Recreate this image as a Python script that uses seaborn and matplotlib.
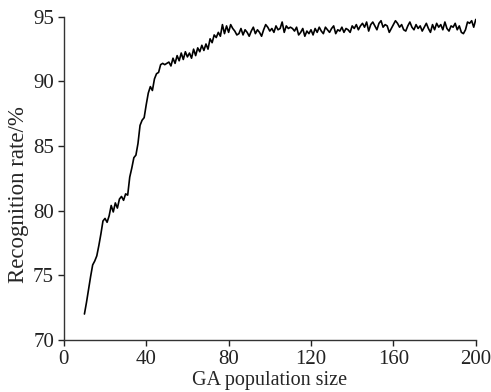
import numpy as np
import pandas as pd
import matplotlib
matplotlib.use("Agg")
import matplotlib.pyplot as plt
import seaborn as sns

pop_size = list(range(10, 201))
recognition_rate = [
    72.0, 72.9, 73.9, 74.9, 75.8, 76.1, 76.5, 77.3, 78.2, 79.2, 79.4,
    79.1, 79.6, 80.4, 79.9, 80.6, 80.2, 80.9, 81.1, 80.8, 81.3,
    81.2, 82.6, 83.3, 84.1, 84.3, 85.2, 86.6, 87.0, 87.2, 88.2,
    89.1, 89.6, 89.3, 90.2, 90.6, 90.7, 91.3, 91.4, 91.3, 91.4,
    91.5, 91.2, 91.8, 91.4, 92.0, 91.6, 92.2, 91.7, 92.3, 91.9,
    92.2, 91.8, 92.5, 92.0, 92.6, 92.3, 92.8, 92.4, 92.9, 92.5,
    93.3, 93.0, 93.6, 93.4, 93.8, 93.5, 94.4, 93.7, 94.3, 93.8,
    94.4, 94.1, 93.9, 93.6, 93.7, 94.1, 93.6, 94.0, 93.8, 93.5,
    93.9, 94.2, 93.7, 94.0, 93.8, 93.5, 94.0, 94.4, 94.2, 93.9,
    94.1, 93.8, 94.3, 94.0, 94.1, 94.6, 93.8, 94.3, 94.1, 94.2,
    94.1, 93.9, 94.2, 93.6, 93.8, 94.1, 93.5, 93.9, 93.7, 94.0,
    93.6, 94.1, 93.8, 94.2, 93.9, 93.7, 94.2, 94.0, 93.8, 94.1,
    94.3, 93.7, 94.0, 93.9, 94.2, 93.8, 94.1, 94.0, 93.8, 94.3,
    94.1, 94.4, 94.0, 94.3, 94.5, 94.2, 94.6, 93.9, 94.4, 94.6,
    94.3, 94.0, 94.5, 94.7, 94.2, 94.4, 94.3, 93.8, 94.1, 94.4,
    94.7, 94.5, 94.2, 94.4, 94.0, 93.9, 94.3, 94.6, 94.2, 94.0,
    94.4, 94.1, 94.3, 93.9, 94.2, 94.5, 94.1, 93.8, 94.4, 94.0,
    94.5, 94.2, 94.4, 94.0, 94.6, 94.1, 93.9, 94.3, 94.2, 94.5,
    94.0, 94.3, 93.8, 93.7, 94.0, 94.6, 94.5, 94.7, 94.2, 94.8,
]
x_ticks = [0, 40, 80, 120, 160, 200]
y_ticks = [70, 75, 80, 85, 90, 95]

sns.set_style("ticks")
plt.rcParams['font.family'] = ['Liberation Serif', 'DejaVu Serif']

df = pd.DataFrame({"pop": pop_size, "rate": recognition_rate})

fig = plt.figure(figsize=(4.91, 3.92), dpi=100)
ax = fig.add_axes([0.130, 0.133, 0.839, 0.824])
sns.lineplot(data=df, x="pop", y="rate", ax=ax, color="black", linewidth=1.2)
ax.set_xlim(0, 200)
ax.set_ylim(70, 95)
ax.set_xticks(x_ticks)
ax.set_yticks(y_ticks)
ax.tick_params(axis="both", direction="out", length=4, width=1, labelsize=15, colors="#222222", pad=3)
for s in ["top", "right"]:
    ax.spines[s].set_visible(False)
for s in ["left", "bottom"]:
    ax.spines[s].set_linewidth(1.0)
    ax.spines[s].set_color("#333333")
ax.set_xlabel("GA population size", fontsize=14.5, labelpad=2)
ax.set_ylabel("Recognition rate/%", fontsize=16.5)
ax.yaxis.set_label_coords(-0.085, 0.45)
fig.savefig("out.png", dpi=100)
